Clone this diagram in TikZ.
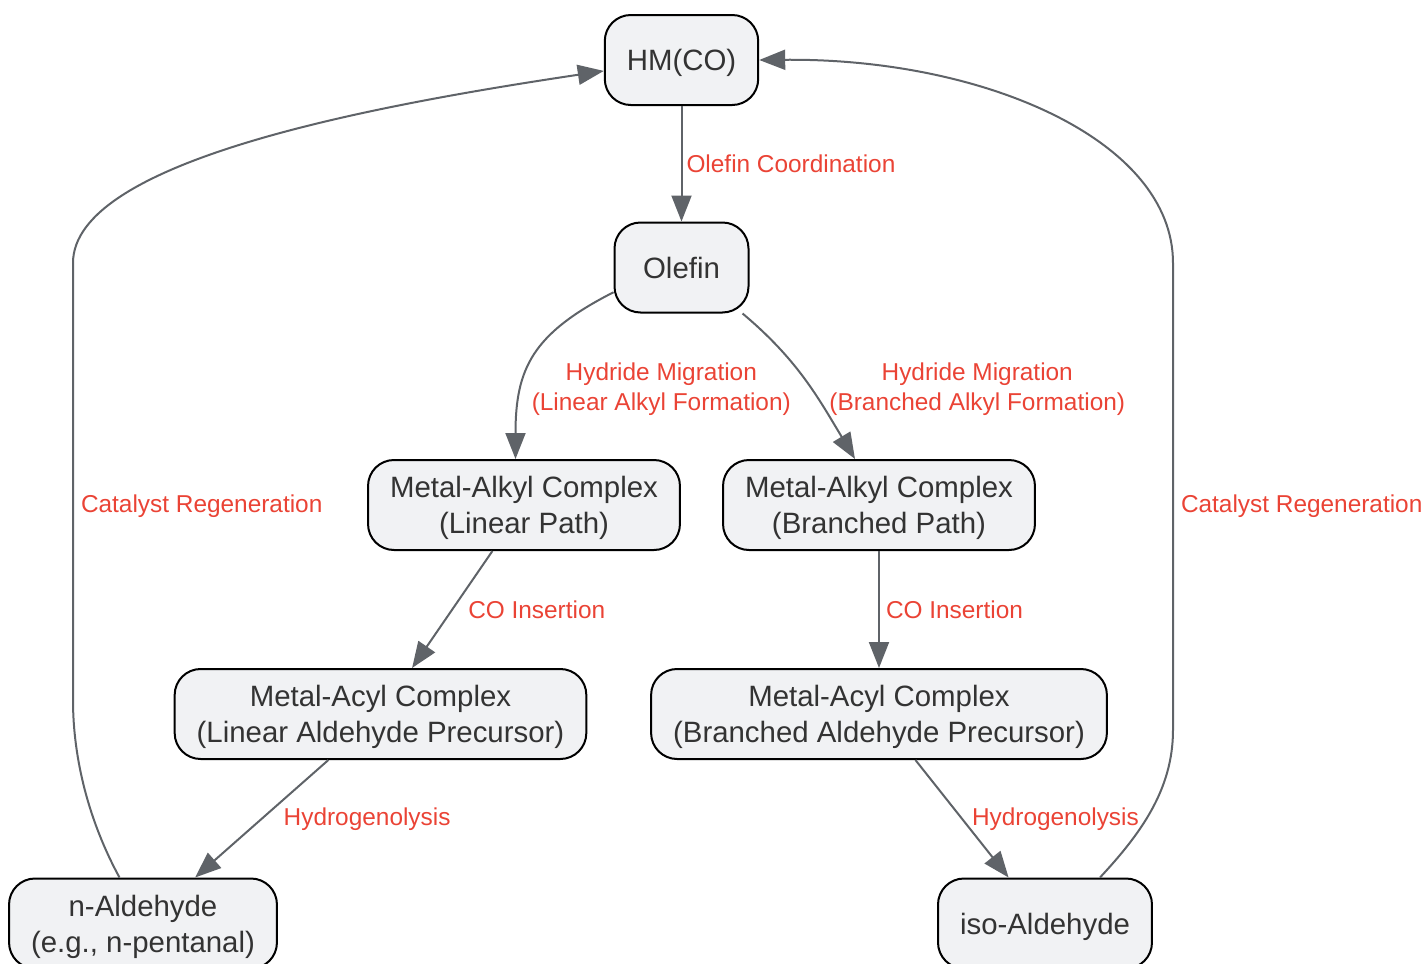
\documentclass[tikz,border=0pt]{standalone}
\usepackage{fontspec}
\setmainfont{Liberation Sans}
\usepackage{tikz}
\usetikzlibrary{arrows.meta,positioning}
\definecolor{boxfill}{HTML}{F1F2F4}
\definecolor{edgegray}{HTML}{5F6368}
\definecolor{lblred}{HTML}{EA4335}
\definecolor{txtgray}{HTML}{333333}
\tikzset{
  box/.style={draw=black, fill=boxfill, rounded corners=13pt, text=txtgray, align=center,
    font=\fontsize{14.7pt}{18pt}\selectfont, inner xsep=11pt, inner ysep=4pt, text depth=0pt,
    minimum height=45pt, minimum width=67pt},
  lbl/.style={text=lblred, align=center, font=\fontsize{12.2pt}{15pt}\selectfont, inner sep=2pt}
}

\begin{document}
\begin{tikzpicture}[x=0.5pt,y=-0.5pt,on grid,line width=1pt,>={Triangle[length=13pt,width=10pt]}]
\useasboundingbox (0,0) rectangle (1426,964);
\node[box]		(hm)		at (681.5,60)									{HM(CO)};
\node[box]		(olefin)	[below=103.75pt of hm]							{Olefin};
\node[box]		(alkyl_l)	[below left=118.75pt and 78.75pt of olefin]		{Metal-Alkyl Complex\\(Linear Path)};
\node[box]		(alkyl_b)	[below right=118.75pt and 98.75pt of olefin]	{Metal-Alkyl Complex\\(Branched Path)};
\node[box]		(acyl_l)	[below left=104.5pt and 71.75pt of alkyl_l]		{Metal-Acyl Complex\\(Linear Aldehyde Precursor)};
\node[box]		(acyl_b)	[below=104.5pt of alkyl_b]						{Metal-Acyl Complex\\(Branched Aldehyde Precursor)};
\node[box]		(ald_n)		[below left=104.75pt and 118.75pt of acyl_l]	{n-Aldehyde\\(e.g., n-pentanal)};
\node[box]		(ald_iso)	[below right=104.75pt and 83pt of acyl_b]		{iso-Aldehyde};
\coordinate		(l_bend)	at (73,700);
\coordinate		(l_top)		at (73,263);
\coordinate		(r_bend)	at (1173,730);
\coordinate		(r_top)		at (1173,263);
\path[->,edgegray]
(hm)			edge								node[lbl, midway, anchor=west]								{Olefin Coordination}								(olefin)
(olefin.200)	edge[out=207, in=90, looseness=1.2]	node[lbl, pos=0.65, anchor=west, xshift=1.5pt, yshift=-4pt]	{Hydride Migration\\(Linear Alkyl Formation)}		([xshift=-4.25pt]alkyl_l.north)
(olefin.-37)	edge[out=-40, in=121]				node[lbl, pos=0.55, anchor=west, xshift=7pt, yshift=-1pt]	{Hydride Migration\\(Branched Alkyl Formation)}		([xshift=-12pt]alkyl_b.north)
(alkyl_l)		edge								node[lbl, midway, anchor=west, xshift=5.5pt]				{CO Insertion}										(acyl_l)
(alkyl_b)		edge								node[lbl, midway, anchor=west, xshift=1pt]					{CO Insertion}										(acyl_b)
(acyl_l)		edge								node[lbl, midway, anchor=west, xshift=8.5pt]				{Hydrogenolysis}									(ald_n)
(acyl_b)		edge								node[lbl, midway, anchor=west, xshift=2.5pt]				{Hydrogenolysis}									(ald_iso)
;
\draw[->,edgegray] ([xshift=-11.75pt]ald_n.north) .. controls +(-30,-55) and +(0,60) .. (l_bend)
	-- node[lbl, pos=0.444, anchor=west, xshift=1.5pt] {Catalyst Regeneration} (l_top)
	.. controls +(0,-103) and +(-227,34) .. (hm.188);
\draw[->,edgegray] ([xshift=27.5pt]ald_iso.north) .. controls +(40,-43) and +(0,60) .. (r_bend)
	-- node[lbl, pos=0.48, anchor=west, xshift=1.5pt] {Catalyst Regeneration} (r_top)
	.. controls +(0,-123) and +(224,-2) .. (hm.east);
\end{tikzpicture}
\end{document}
